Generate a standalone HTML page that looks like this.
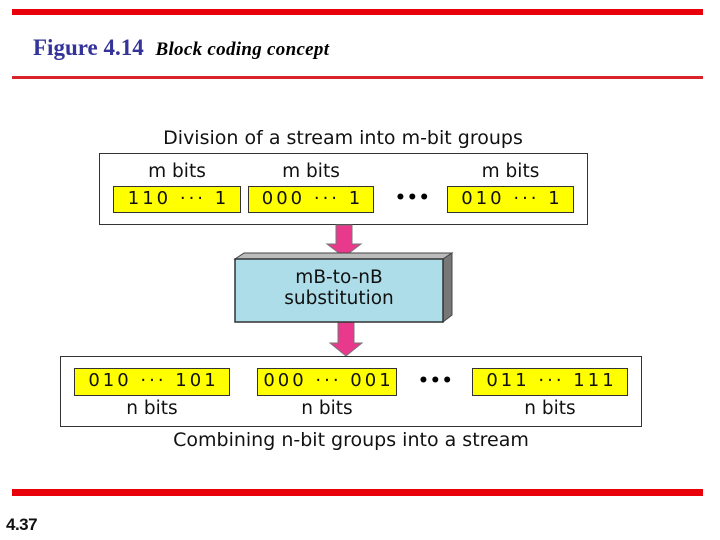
<!DOCTYPE html>
<html><head><meta charset="utf-8"><style>
html,body{margin:0;padding:0;background:#fff;}
body{width:720px;height:540px;position:relative;overflow:hidden;font-family:"DejaVu Sans","Liberation Sans",sans-serif;}
.a{position:absolute;}
.red{background:#e8000b;left:12px;width:691px;}
.yb{position:absolute;background:#ffff00;border:1.5px solid #333;box-sizing:border-box;font-size:18px;text-align:center;letter-spacing:3px;line-height:24px;color:#111;white-space:nowrap;padding-left:3px;}
.lb{position:absolute;font-size:18.5px;color:#111;text-align:center;white-space:nowrap;}
.frame{position:absolute;border:1.5px solid #333;box-sizing:border-box;background:#fff;}
</style></head><body>
<div class="a red" style="top:9px;height:6px"></div>
<div class="a red" style="top:76px;height:3px;background:#d8232a"></div>
<div class="a red" style="top:489px;height:7px"></div>
<div class="a" style="left:33px;top:35px;font-family:'Liberation Serif',serif;font-size:23px;font-weight:bold;color:#333399;white-space:nowrap">Figure 4.14 <span style="font-size:19px;font-weight:bold;font-style:italic;color:#000;margin-left:6px;letter-spacing:0.3px">Block coding concept</span></div>
<div class="a" style="left:6px;top:515px;font-family:'Liberation Sans',sans-serif;font-weight:bold;font-size:17px;color:#111;letter-spacing:-0.5px">4.37</div>

<div class="lb" style="left:99px;width:488px;top:127px;font-size:19px">Division of a stream into m-bit groups</div>
<div class="frame" style="left:99px;top:153px;width:489px;height:72px"></div>
<div class="lb" style="left:113px;width:128px;top:161px">m bits</div>
<div class="lb" style="left:248px;width:126px;top:161px">m bits</div>
<div class="lb" style="left:447px;width:127px;top:161px">m bits</div>
<div class="yb" style="left:113px;top:186px;width:128px;height:27px">110 ··· 1</div>
<div class="yb" style="left:248px;top:186px;width:126px;height:27px">000 ··· 1</div>
<div class="yb" style="left:447px;top:186px;width:127px;height:27px">010 ··· 1</div>
<div class="a" style="left:395px;top:188px;font-size:17px;font-weight:bold;letter-spacing:1px">•••</div>

<svg class="a" style="left:0;top:0" width="720" height="540">
<path d="M336 225 H352 V244 H361 L344 257 L327 244 H336 Z" fill="#e8398d" stroke="#777" stroke-width="1"/>
<path d="M338 322 H354 V343 H362 L346 356 L330 343 H338 Z" fill="#e8398d" stroke="#777" stroke-width="1"/>
<path d="M235 259 L244 253 H452 L443 259 Z" fill="#bbb" stroke="#444" stroke-width="1"/>
<path d="M443 259 L452 253 V315 L443 322 Z" fill="#777" stroke="#444" stroke-width="1"/>
<rect x="235" y="259" width="208" height="63" fill="#acdde9" stroke="#333" stroke-width="1.5"/>
</svg>
<div class="lb" style="left:235px;width:208px;top:267px;line-height:21px">mB-to-nB<br>substitution</div>

<div class="frame" style="left:60px;top:356px;width:582px;height:71px"></div>
<div class="yb" style="left:74px;top:368px;width:156px;height:28px">010 ··· 101</div>
<div class="yb" style="left:257px;top:368px;width:140px;height:28px">000 ··· 001</div>
<div class="yb" style="left:472px;top:368px;width:156px;height:28px">011 ··· 111</div>
<div class="a" style="left:418px;top:371px;font-size:17px;font-weight:bold;letter-spacing:1px">•••</div>
<div class="lb" style="left:74px;width:156px;top:398px">n bits</div>
<div class="lb" style="left:257px;width:140px;top:398px">n bits</div>
<div class="lb" style="left:472px;width:156px;top:398px">n bits</div>
<div class="lb" style="left:60px;width:582px;top:429px;font-size:19px">Combining n-bit groups into a stream</div>
</body></html>
